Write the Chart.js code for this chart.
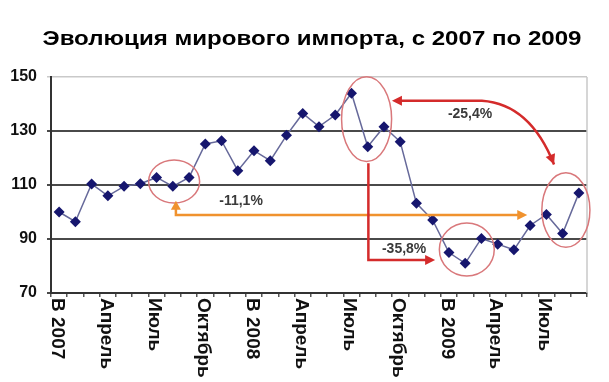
<!DOCTYPE html>
<html>
<head>
<meta charset="utf-8">
<script src="https://cdn.jsdelivr.net/npm/chart.js@4/dist/chart.umd.min.js"></script>
<style>
html,body{margin:0;padding:0;background:#fff;}
canvas{display:block;}
</style>
</head>
<body>
<canvas id="c" width="609" height="382"></canvas>
<script>
// ---- data ----
const categories = [
  "Январь 2007","Февраль 2007","Март 2007","Апрель 2007","Май 2007","Июнь 2007",
  "Июль 2007","Август 2007","Сентябрь 2007","Октябрь 2007","Ноябрь 2007","Декабрь 2007",
  "Январь 2008","Февраль 2008","Март 2008","Апрель 2008","Май 2008","Июнь 2008",
  "Июль 2008","Август 2008","Сентябрь 2008","Октябрь 2008","Ноябрь 2008","Декабрь 2008",
  "Январь 2009","Февраль 2009","Март 2009","Апрель 2009","Май 2009","Июнь 2009",
  "Июль 2009","Август 2009","Сентябрь 2009"
];
const tickLabels = [
  "В 2007","","","Апрель","","","Июль","","","Октябрь","","",
  "В 2008","","","Апрель","","","Июль","","","Октябрь","","",
  "В 2009","","","Апрель","","","Июль","",""
];
const importIndex = [
  100, 96.4, 110.4, 106, 109.5, 110.5, 112.8, 109.5, 112.8, 125.2, 126.4, 115.3,
  122.7, 119, 128.4, 136.5, 131.6, 135.9, 144, 124.2, 131.6, 126, 103.2, 97,
  85, 81, 90.2, 88.1, 86, 95, 99.1, 92, 107
];
const yTicks = [70, 90, 110, 130, 150];
const titleText = "Эволюция мирового импорта, с 2007 по 2009";

// annotations (in data coordinates: category index, value)
const ellipses = [
  {cx: 7.08, cy: 111.3, rx: 1.57, ry: 8.0},
  {cx: 18.93, cy: 134.4, rx: 1.54, ry: 15.7},
  {cx: 25.1, cy: 86.1, rx: 1.69, ry: 9.8},
  {cx: 31.2, cy: 100.7, rx: 1.48, ry: 13.8}
];
const changeLabels = [
  {text: "-11,1%", x: 11.2, y: 104.1},
  {text: "-35,8%", x: 21.24, y: 86.3},
  {text: "-25,4%", x: 25.3, y: 136.3}
];
const orangeArrow = [[28.82, 98.9], [7.19, 98.9], [7.19, 104.2]];
const redArrow1 = [[19.04, 118.1], [19.04, 82.2], [23.15, 82.2]];
const redArrow2 = {start: [20.49, 141.2], bend: [26.03, 141.2], ctrl: [29.0, 140.0], end: [30.47, 117.6]};

const FONT = "'Liberation Sans', Arial, sans-serif";
// title layout (text box in pixels)
const TITLE_BOX = {center: 312, baseline: 45, width: 539, size: 21};

function head(ctx, tip, from, color, len, half) {
  const a = Math.atan2(tip[1] - from[1], tip[0] - from[0]);
  ctx.save();
  ctx.fillStyle = color;
  ctx.translate(tip[0], tip[1]);
  ctx.rotate(a);
  ctx.beginPath();
  ctx.moveTo(0, 0);
  ctx.lineTo(-len, -half);
  ctx.lineTo(-len, half);
  ctx.closePath();
  ctx.fill();
  ctx.restore();
}

const titlePlugin = {
  id: 'titlePlugin',
  afterDraw(chart) {
    const {ctx} = chart;
    ctx.save();
    ctx.fillStyle = '#000';
    ctx.font = 'bold ' + TITLE_BOX.size + 'px ' + FONT;
    ctx.textAlign = 'center';
    ctx.textBaseline = 'alphabetic';
    const w = ctx.measureText(titleText).width;
    ctx.translate(TITLE_BOX.center, TITLE_BOX.baseline);
    ctx.scale(TITLE_BOX.width / w, 1);
    ctx.fillText(titleText, 0, 0);
    ctx.restore();
  }
};

const frame = {
  id: 'frame',
  beforeDatasetsDraw(chart) {
    const {ctx, chartArea: a} = chart;
    ctx.save();
    ctx.strokeStyle = '#c9c9c9';
    ctx.lineWidth = 1.5;
    ctx.beginPath();
    ctx.moveTo(a.right, a.top);
    ctx.lineTo(a.right, a.bottom);
    ctx.stroke();
    ctx.restore();
  }
};

const annot = {
  id: 'annot',
  afterDatasetsDraw(chart) {
    const {ctx, scales: {x, y}} = chart;
    const P = p => [x.getPixelForValue(p[0]), y.getPixelForValue(p[1])];
    const ppc = x.getPixelForValue(1) - x.getPixelForValue(0);
    const ppu = y.getPixelForValue(0) - y.getPixelForValue(1);
    ctx.save();
    ctx.strokeStyle = '#d9787b';
    ctx.lineWidth = 1.5;
    ellipses.forEach(e => {
      ctx.beginPath();
      ctx.ellipse(x.getPixelForValue(e.cx), y.getPixelForValue(e.cy), e.rx * ppc, e.ry * ppu, 0, 0, Math.PI * 2);
      ctx.stroke();
    });
    const oc = '#f0922e';
    const o = orangeArrow.map(P);
    ctx.strokeStyle = oc; ctx.lineWidth = 2.5;
    ctx.beginPath();
    ctx.moveTo(o[0][0] - 8, o[0][1]);
    ctx.lineTo(o[1][0], o[1][1]);
    ctx.lineTo(o[2][0], o[2][1] + 7);
    ctx.stroke();
    head(ctx, o[0], o[1], oc, 10, 5);
    head(ctx, o[2], o[1], oc, 9, 5);
    const rc = '#d42b2b';
    const r = redArrow1.map(P);
    ctx.strokeStyle = rc; ctx.lineWidth = 2.5;
    ctx.beginPath();
    ctx.moveTo(r[0][0], r[0][1]);
    ctx.lineTo(r[1][0], r[1][1]);
    ctx.lineTo(r[2][0] - 8, r[2][1]);
    ctx.stroke();
    head(ctx, r[2], r[1], rc, 10, 5);
    const s = P(redArrow2.start), b = P(redArrow2.bend), c = P(redArrow2.ctrl), e = P(redArrow2.end);
    ctx.beginPath();
    ctx.moveTo(s[0] + 8, s[1]);
    ctx.lineTo(b[0], b[1]);
    ctx.quadraticCurveTo(c[0], c[1], e[0], e[1]);
    ctx.stroke();
    head(ctx, s, b, rc, 10, 5);
    head(ctx, e, c, rc, 10, 5);
    ctx.fillStyle = '#3a3a3a';
    ctx.font = 'bold 14px ' + FONT;
    ctx.textAlign = 'center';
    ctx.textBaseline = 'middle';
    changeLabels.forEach(l => {
      const p = P([l.x, l.y]);
      ctx.fillText(l.text, p[0], p[1]);
    });
    ctx.restore();
  }
};

const xLabels = {
  id: 'xLabels',
  afterDraw(chart) {
    const {ctx, scales: {x}} = chart;
    ctx.save();
    ctx.fillStyle = '#111';
    ctx.font = 'bold 19px ' + FONT;
    ctx.textAlign = 'left';
    ctx.textBaseline = 'middle';
    tickLabels.forEach((t, i) => {
      if (!t) return;
      ctx.save();
      ctx.translate(x.getPixelForValue(i) - 2, x.top + 5);
      ctx.rotate(Math.PI / 2);
      ctx.fillText(t, 0, 0);
      ctx.restore();
    });
    ctx.restore();
  }
};

new Chart(document.getElementById('c'), {
  type: 'line',
  data: {
    labels: categories,
    datasets: [{
      data: importIndex,
      borderColor: '#66699a',
      borderWidth: 1.5,
      tension: 0,
      pointStyle: 'rectRot',
      pointRadius: 5.5,
      pointBackgroundColor: '#16166e',
      pointBorderColor: '#16166e',
      pointBorderWidth: 0,
      clip: false
    }]
  },
  options: {
    responsive: false,
    animation: false,
    devicePixelRatio: 1,
    layout: {padding: {left: 0, right: 22, top: 77, bottom: 0}},
    plugins: {
      legend: {display: false},
      tooltip: {enabled: false},
      title: {display: false}
    },
    scales: {
      x: {
        type: 'category',
        offset: true,
        grid: {display: true, drawOnChartArea: false, drawTicks: true, tickLength: 4, offset: true, color: '#555', lineWidth: 1.5},
        border: {display: true, color: '#333', width: 2},
        ticks: {display: false},
        afterFit(scale) { scale.height = 89; }
      },
      y: {
        min: 70, max: 150,
        afterBuildTicks(scale) { scale.ticks = yTicks.map(v => ({value: v})); },
        grid: {
          drawTicks: true, tickLength: 4,
          color: ctx => ctx.tick && ctx.tick.value === 150 ? '#c9c9c9' : '#4a4a4a',
          lineWidth: ctx => ctx.tick && ctx.tick.value === 150 ? 1.5 : 2
        },
        border: {display: true, color: '#333', width: 2},
        ticks: {color: '#111', padding: 10, font: {family: FONT, size: 16, weight: 'bold'}},
        afterFit(scale) { scale.width = 51; }
      }
    }
  },
  plugins: [frame, annot, xLabels, titlePlugin]
});
</script>
</body>
</html>
